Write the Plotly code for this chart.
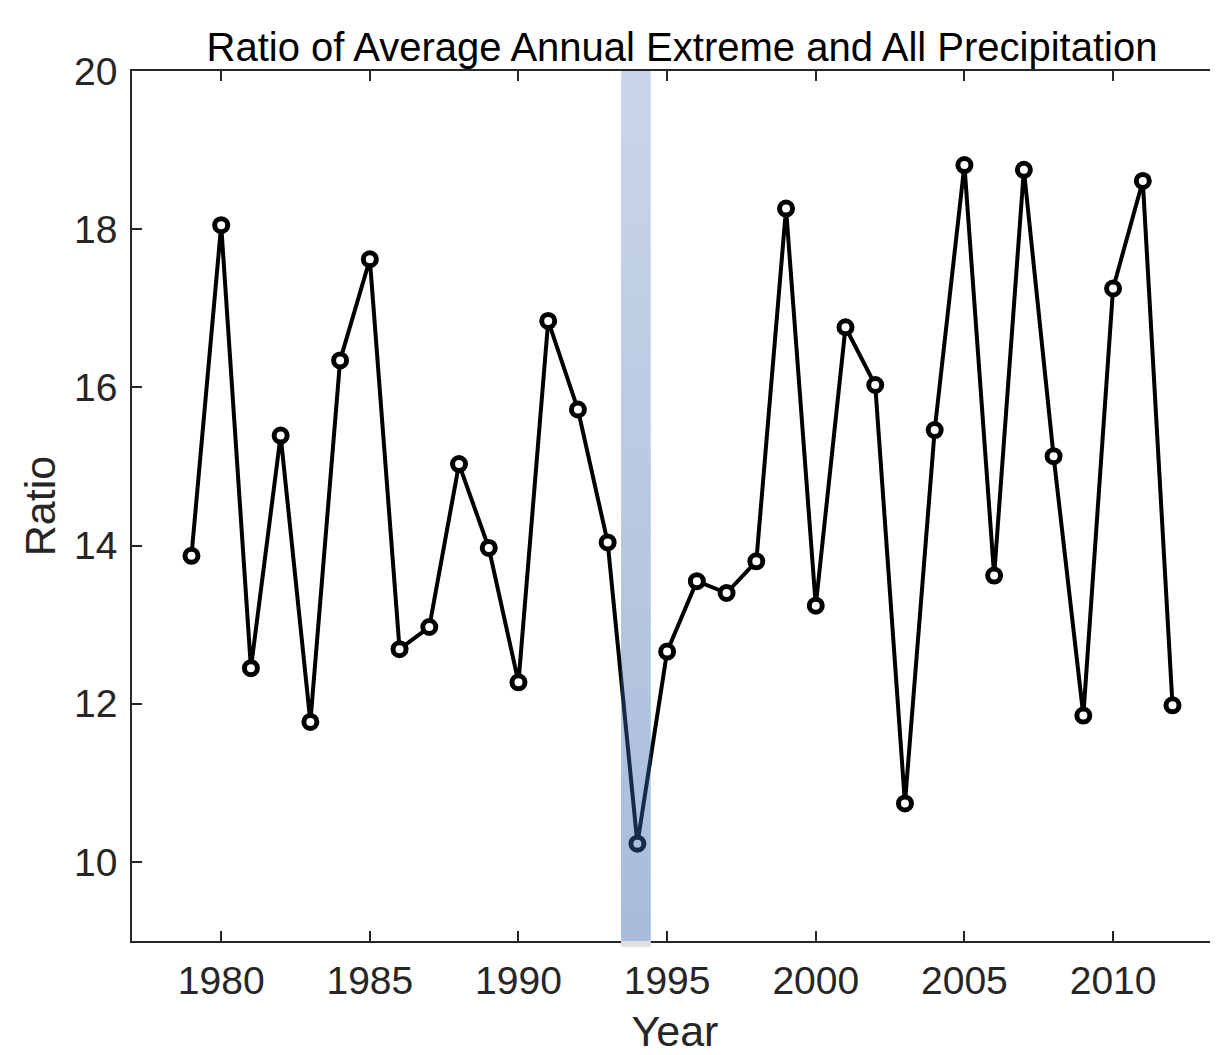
import plotly.graph_objects as go

years = list(range(1979, 2013))
ratio = [13.87, 18.05, 12.45, 15.39, 11.77, 16.34, 17.62, 12.69, 12.97, 15.03,
         13.97, 12.27, 16.84, 15.72, 14.04, 10.23, 12.66, 13.55, 13.40, 13.80,
         18.26, 13.24, 16.76, 16.03, 10.74, 15.46, 18.81, 13.62, 18.75, 15.13,
         11.85, 17.25, 18.61, 11.98]
band_years = [1993.45, 1994.45]
y_ticks = [10, 12, 14, 16, 18, 20]
x_ticks = [1980, 1985, 1990, 1995, 2000, 2005, 2010]

FONT = "Liberation Sans, Arial, sans-serif"
AX = "#262626"
OFF = 8  # page body margin offset
W, H = 1218 - OFF, 1055 - OFF

fig = go.Figure()
fig.add_trace(go.Scatter(
    x=years, y=ratio, mode="lines+markers",
    line=dict(color="black", width=4),
    marker=dict(symbol="circle", size=13, color="white",
                line=dict(color="black", width=5)),
    showlegend=False, cliponaxis=False))

b0, b1 = band_years
fig.add_trace(go.Scatter(
    x=[b0, b1, b1, b0, b0], y=[9, 9, 20.03, 20.03, 9],
    mode="lines", line=dict(width=0), fill="toself",
    fillgradient=dict(type="vertical",
                      colorscale=[[0, "rgba(57,102,170,0.44)"],
                                  [1, "rgba(57,102,170,0.27)"]]),
    showlegend=False, hoverinfo="skip"))

fig.add_shape(type="rect", xref="x", yref="paper", x0=b0, x1=b1,
              y0=-0.007, y1=0, fillcolor="#e0e0e0", line=dict(width=0),
              layer="above")

fig.update_layout(
    width=W, height=H,
    margin=dict(l=132 - OFF, r=0, t=71 - OFF, b=1055 - 941, pad=0, autoexpand=False),
    plot_bgcolor="white", paper_bgcolor="white",
    font=dict(family=FONT, color=AX, size=39),
    title=dict(text="Ratio of Average Annual Extreme and All Precipitation",
               x=(682 - OFF) / W, xref="container", xanchor="center",
               y=1 - (47 - OFF) / H, yref="container", yanchor="middle",
               font=dict(family=FONT, size=40, color="black")),
    xaxis=dict(range=[1977, 2013.53], tickvals=x_ticks, automargin=False,
               ticks="inside", ticklen=10, tickwidth=1.5, tickcolor=AX,
               showline=True, linecolor=AX, linewidth=1.5, mirror="ticks",
               showgrid=False, zeroline=False, ticklabelstandoff=4,
               tickfont=dict(size=39, color=AX),
               title=dict(text="Year", font=dict(size=43, color=AX), standoff=16)),
    yaxis=dict(range=[9, 20], tickvals=y_ticks, automargin=False,
               ticks="inside", ticklen=10, tickwidth=1.5, tickcolor=AX,
               showline=True, linecolor=AX, linewidth=1.5, mirror=False,
               showgrid=False, zeroline=False, ticklabelstandoff=5,
               tickfont=dict(size=39, color=AX),
               title=dict(text="Ratio", font=dict(size=43, color=AX), standoff=5)),
)

fig.write_html("out.html")
